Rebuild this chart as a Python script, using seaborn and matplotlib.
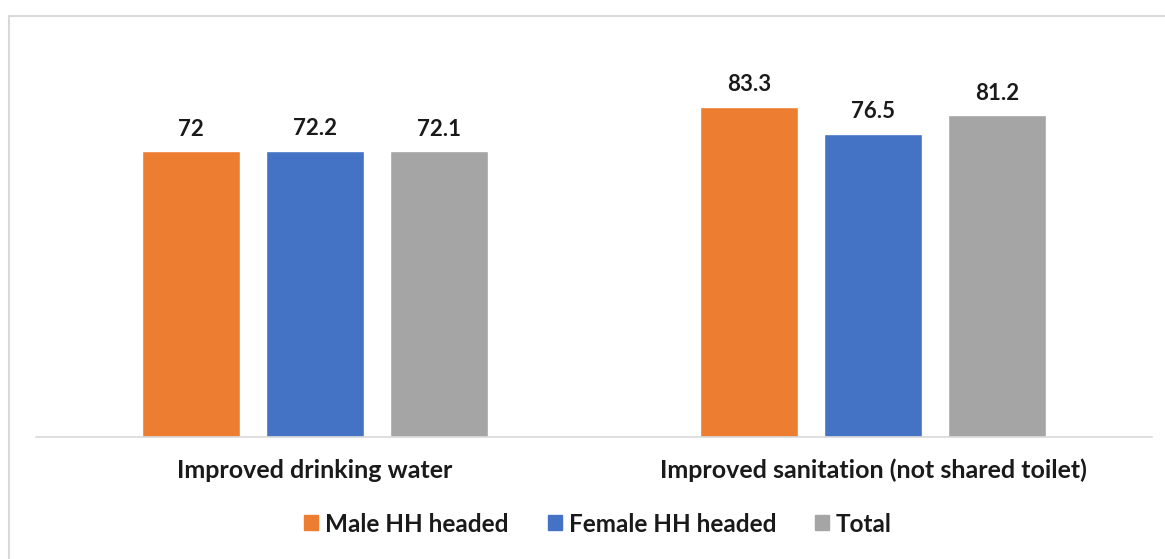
import matplotlib
matplotlib.use("Agg")
import matplotlib.pyplot as plt
from matplotlib.patches import Rectangle
import seaborn as sns
import pandas as pd

# data
categories = ["Improved drinking water", "Improved sanitation (not shared toilet)"]
groups = ["Male HH headed", "Female HH headed", "Total"]
male = [72, 83.3]
female = [72.2, 76.5]
total = [72.1, 81.2]
colors = ["#ED7D31", "#4472C4", "#A5A5A5"]

df = pd.DataFrame({
    "category": categories * 3,
    "group": [g for g in groups for _ in categories],
    "value": male + female + total,
})

sns.set_theme(style="white")
plt.rcParams["font.family"] = ["Lato", "DejaVu Sans"]
plt.rcParams["font.weight"] = "bold"

W, H = 1165, 559
fig = plt.figure(figsize=(W / 100, H / 100), dpi=100)
ax = fig.add_axes([36 / W, 1 - 437 / H, (1152 - 36) / W, 357 / H])

sns.barplot(data=df, x="category", y="value", hue="group", hue_order=groups,
            palette=colors, width=0.667, gap=0.21, ax=ax, saturation=1)

for c in ax.containers:
    ax.bar_label(c, padding=8, fontsize=16, fontweight="bold", color="#1a1a1a")

ax.set_ylim(0, 90)
ax.set_xlim(-0.5, 1.5)
ax.set_xlabel("")
ax.set_ylabel("")
ax.set_yticks([])
for s in ["top", "left", "right"]:
    ax.spines[s].set_visible(False)
ax.spines["bottom"].set_color("#D9D9D9")
ax.spines["bottom"].set_linewidth(1.2)
ax.tick_params(axis="x", length=0, pad=15.5, labelsize=18, labelcolor="#1a1a1a")
for t in ax.get_xticklabels():
    t.set_fontweight("bold")

ax.legend_.remove()
handles = [Rectangle((0, 0), 1, 1, color=c) for c in colors]
fig.legend(handles, groups, loc="center", bbox_to_anchor=(598 / W, 1 - 524 / H),
           ncol=3, frameon=False, fontsize=17.5, handlelength=0.58, handleheight=0.58,
           handletextpad=0.28, columnspacing=1.6, labelcolor="#1a1a1a")

# outer chart frame
fig.patches.append(Rectangle((9 / W, -0.1), 1.2, 1 - 16 / H + 0.1, transform=fig.transFigure,
                             fill=False, edgecolor="#D9D9D9", linewidth=1.5))

fig.savefig("out.png", dpi=100)
